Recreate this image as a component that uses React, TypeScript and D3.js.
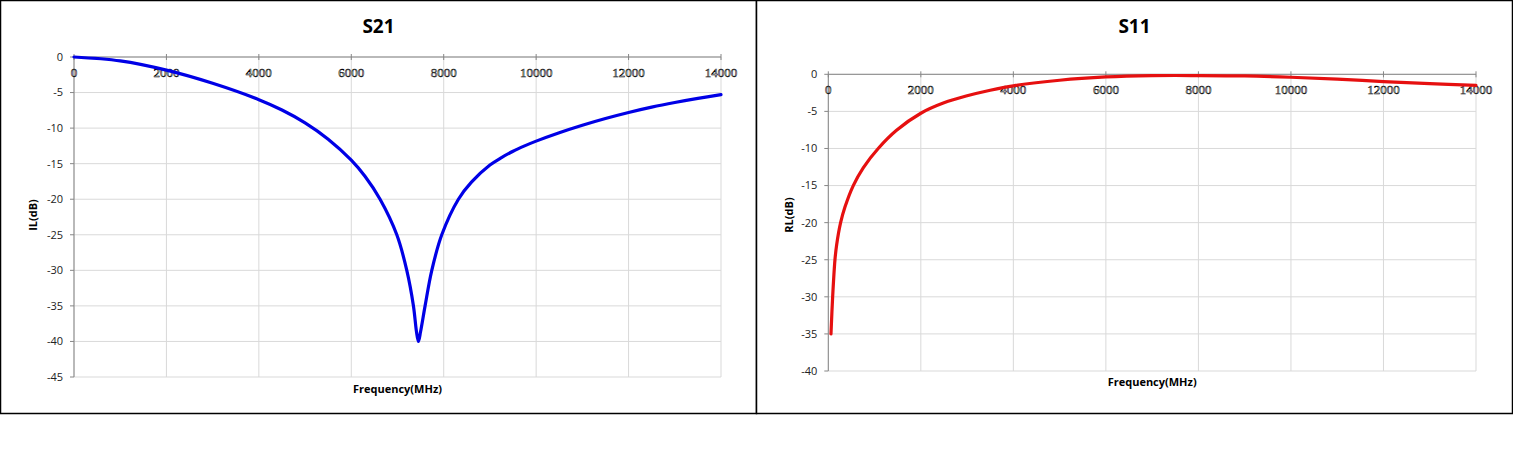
import * as d3 from 'd3'

// S21 insertion loss
const s21Freq = [0, 1000, 2000, 3000, 4000, 4500, 5000, 5500, 6000, 6300, 6623, 6985, 7201, 7345, 7410, 7453, 7500, 7597, 7742, 7958, 8318, 8600, 9000, 9250, 9500, 9750, 10000, 10500, 11000, 11500, 12000, 12500, 13000, 13500, 14000]
const s21Db = [0, -0.55, -1.85, -3.7, -6.0, -7.45, -9.25, -11.55, -14.5, -16.8, -20, -25, -30, -35, -38.6, -40, -38.6, -35, -30, -25, -20, -17.6, -15.2, -14.15, -13.25, -12.5, -11.83, -10.65, -9.6, -8.65, -7.8, -7.05, -6.4, -5.82, -5.3]

// S11 return loss
const s11Freq = [58, 94, 144, 180, 266, 360, 540, 755, 1079, 1475, 2000, 2500, 3000, 3500, 4000, 5000, 6000, 7000, 8000, 9000, 10000, 11000, 12000, 13000, 14000]
const s11Db = [-35, -30, -25, -23.0, -20, -17.9, -15, -12.6, -10, -7.55, -5.25, -3.85, -2.9, -2.15, -1.55, -0.8, -0.36, -0.18, -0.17, -0.22, -0.4, -0.65, -0.98, -1.26, -1.5]

const freqTicks = [0, 2000, 4000, 6000, 8000, 10000, 12000, 14000]
const s21Ticks = [0, -5, -10, -15, -20, -25, -30, -35, -40, -45]
const s11Ticks = [0, -5, -10, -15, -20, -25, -30, -35, -40]

const SANS = '"Open Sans", "Liberation Sans", sans-serif'

type ChartProps = {
  left: number
  width: number
  height: number
  plot: { x0: number; x1: number; y0: number; y1: number }
  title: string
  yLabel: string
  yMin: number
  yTicks: number[]
  freq: number[]
  db: number[]
  color: string
  xTitleY: number
}

const Chart = ({ left, width, height, plot, title, yLabel, yMin, yTicks, freq, db, color, xTitleY }: ChartProps) => {
  const x = d3.scaleLinear().domain([0, 14000]).range([plot.x0, plot.x1])
  const y = d3.scaleLinear().domain([yMin, 0]).range([plot.y1, plot.y0])
  const pts = freq.map((f, i) => [f, db[i]] as [number, number])
  const line = d3
    .line<[number, number]>()
    .x((d) => x(d[0]))
    .y((d) => y(d[1]))
    .curve(d3.curveCatmullRom.alpha(0.5))

  return (
    <g transform={`translate(${left},0)`}>
      <rect x={0.5} y={0.5} width={width - 1} height={height - 1} fill="#fff" stroke="#000" strokeWidth={1.5} />
      <text x={width / 2} y={33} textAnchor="middle" fontFamily={SANS} fontWeight="bold" fontSize={19}>
        {title}
      </text>

      {/* grid */}
      {freqTicks.map((t) => (
        <line key={'gx' + t} x1={x(t)} x2={x(t)} y1={plot.y0} y2={plot.y1} stroke="#d9d9d9" />
      ))}
      {yTicks.map((t) => (
        <line key={'gy' + t} x1={plot.x0} x2={plot.x1} y1={y(t)} y2={y(t)} stroke="#d9d9d9" />
      ))}

      {/* axes */}
      <line x1={plot.x0} x2={plot.x0} y1={plot.y0} y2={plot.y1} stroke="#868686" />
      <line x1={plot.x0} x2={plot.x1} y1={plot.y0} y2={plot.y0} stroke="#868686" />
      {yTicks.map((t) => (
        <g key={'ty' + t}>
          <line x1={plot.x0 - 4} x2={plot.x0} y1={y(t)} y2={y(t)} stroke="#868686" />
          <text x={plot.x0 - 11} y={y(t)} dy="0.35em" textAnchor="end" fontFamily={SANS} fontSize={11} fill="#222">
            {t}
          </text>
        </g>
      ))}
      {freqTicks.map((t) => (
        <g key={'tx' + t}>
          <line x1={x(t)} x2={x(t)} y1={plot.y0 - 3} y2={plot.y0 + 3} stroke="#868686" />
          <text
            x={x(t)}
            y={plot.y0 + 19.5}
            textAnchor="middle"
            fontFamily='"Liberation Serif", serif'
            fontSize={13}
            fill="#fff"
            stroke="#000"
            strokeWidth={0.55}
          >
            {t}
          </text>
        </g>
      ))}

      <path d={line(pts) ?? ''} fill="none" stroke={color} strokeWidth={3.2} strokeLinejoin="round" strokeLinecap="round" />

      <text
        transform={`translate(${33},${215}) rotate(-90)`}
        textAnchor="middle"
        dy="0.35em"
        fontFamily={SANS}
        fontWeight="bold"
        fontSize={11}
      >
        {yLabel}
      </text>
      <text x={(plot.x0 + plot.x1) / 2} y={xTitleY} textAnchor="middle" fontFamily={SANS} fontWeight="bold" fontSize={11}>
        Frequency(MHz)
      </text>
    </g>
  )
}

export default function App() {
  return (
    <svg width={1513} height={460} style={{ position: 'absolute', left: 0, top: 0, background: '#fff' }}>
      <rect width={1513} height={460} fill="#fff" />
      <Chart
        left={0}
        width={757}
        height={414}
        plot={{ x0: 74, x1: 721, y0: 57, y1: 377 }}
        title="S21"
        yLabel="IL(dB)"
        yMin={-45}
        yTicks={s21Ticks}
        freq={s21Freq}
        db={s21Db}
        color="#0000e6"
        xTitleY={393}
      />
      <Chart
        left={756}
        width={757}
        height={414}
        plot={{ x0: 72.3, x1: 720, y0: 74.3, y1: 371 }}
        title="S11"
        yLabel="RL(dB)"
        yMin={-40}
        yTicks={s11Ticks}
        freq={s11Freq}
        db={s11Db}
        color="#e61010"
        xTitleY={386}
      />
    </svg>
  )
}
